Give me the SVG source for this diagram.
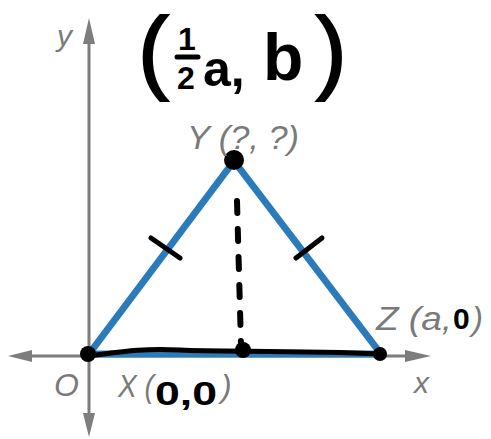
<svg xmlns="http://www.w3.org/2000/svg" width="491" height="439" viewBox="0 0 491 439">
<defs>
<style>
.axis{stroke:#7d7d7d;stroke-width:3;fill:none}
.arr{fill:#7d7d7d}
.edge{stroke:#2b7bba;stroke-width:7;fill:none;stroke-linecap:round}
.ink{stroke:#000;fill:none;stroke-linecap:round;stroke-linejoin:round}
.lbl{font-family:"Liberation Sans",Arial,sans-serif;font-style:italic;fill:#7a7a7a}
.hand{font-family:"Liberation Sans",Arial,sans-serif;font-weight:bold;fill:#000}
.paren{font-family:"Liberation Sans",Arial,sans-serif;fill:#000;stroke:#000;stroke-width:2}
</style>
</defs>
<rect width="491" height="439" fill="#fff"/>
<g id="axes">
<line class="axis" x1="89" y1="38" x2="89" y2="420"/>
<polygon class="arr" points="89,18 83,44 95,44"/>
<polygon class="arr" points="89,437 83,413 95,413"/>
<line class="axis" x1="26" y1="356" x2="410" y2="356"/>
<polygon class="arr" points="8,356 32,350 32,362"/>
<polygon class="arr" points="431,356 405,350 405,362"/>
<text class="lbl" x="57" y="46" font-size="30">y</text>
<text class="lbl" x="414" y="393" font-size="30">x</text>
<text class="lbl" x="54" y="396" font-size="32" font-style="normal">O</text>
</g>
<g id="connectors">
<line class="edge" x1="89" y1="354" x2="234" y2="161"/>
<line class="edge" x1="234" y1="161" x2="381" y2="354"/>
<line class="edge" x1="89" y1="354" x2="381" y2="354"/>
<line class="ink" stroke-width="5" x1="151" y1="238" x2="180" y2="258"/>
<line class="ink" stroke-width="5" x1="296" y1="258" x2="322" y2="238"/>
<path class="ink" stroke-width="6" stroke-dasharray="12,16" d="M237 201 L241 345"/>
<path class="ink" stroke-width="5" d="M88 356 C120 352 140 348 180 350 S 300 350 380 354"/>
</g>
<g id="X">
<circle cx="88" cy="354" r="8" fill="#000"/>
<text class="lbl" x="118" y="397" font-size="32" textLength="36" lengthAdjust="spacingAndGlyphs">X (</text>
<text class="hand" x="155" y="405" font-size="34" textLength="62" lengthAdjust="spacingAndGlyphs">0,0</text>
<text class="lbl" x="221" y="397" font-size="32">)</text>
</g>
<g id="Y">
<circle cx="234" cy="160" r="10" fill="#000"/>
<text class="lbl" x="187" y="149" font-size="33" textLength="112" lengthAdjust="spacingAndGlyphs">Y (?, ?)</text>
</g>
<g id="Z">
<circle cx="380" cy="354" r="7" fill="#000"/>
<text class="lbl" x="376" y="330" font-size="33" textLength="76" lengthAdjust="spacingAndGlyphs">Z (a,</text>
<text class="hand" x="453" y="329" font-size="30">0</text>
<text class="lbl" x="472" y="330" font-size="33">)</text>
</g>
<g id="M">
<circle cx="243" cy="350" r="8" fill="#000"/>
</g>
<g id="note">
<text class="paren" x="138" y="82" font-size="92">(</text>
<text class="hand" x="178" y="50" font-size="32">1</text>
<line class="ink" stroke-width="5" x1="177" y1="57" x2="198" y2="57"/>
<text class="hand" x="177" y="89" font-size="32">2</text>
<text class="hand" x="203" y="86" font-size="50">a,</text>
<text class="hand" x="263" y="80" font-size="66">b</text>
<text class="paren" x="316" y="82" font-size="92">)</text>
</g>
</svg>
